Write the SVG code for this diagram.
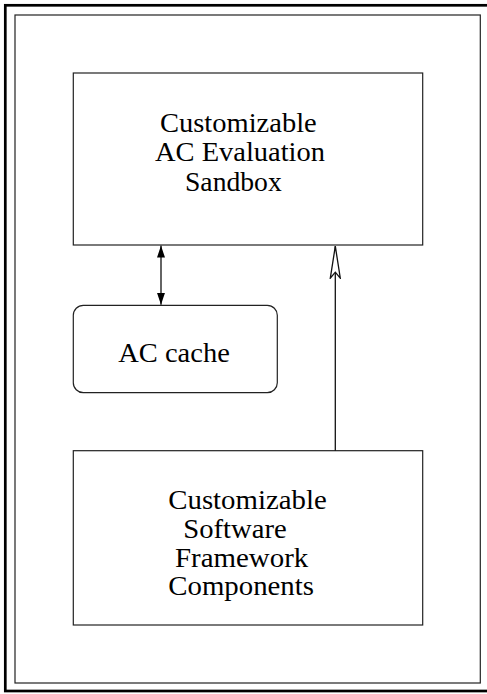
<svg xmlns="http://www.w3.org/2000/svg" width="487" height="694" viewBox="0 0 487 694">
  <style>
    .box { fill: #ffffff; stroke: #222222; stroke-width: 1.2; }
    .lbl { font-family: "Liberation Serif", "Times New Roman", serif; font-size: 26.5px; fill: #000000; }
    .conn { stroke: #111111; stroke-width: 1.3; fill: none; }
  </style>
  <defs>
    <marker id="filled" viewBox="0 0 12 8" refX="12" refY="4" markerWidth="12" markerHeight="8" markerUnits="userSpaceOnUse" orient="auto-start-reverse">
      <path d="M0,0 L12,4 L0,8 Z" fill="#000000"/>
    </marker>
    <marker id="open" viewBox="0 0 34 12" refX="33" refY="6" markerWidth="34" markerHeight="12" markerUnits="userSpaceOnUse" orient="auto">
      <path d="M1,1 L33,6 L1,11 L7,6 Z" fill="#ffffff" stroke="#111111" stroke-width="1.3" stroke-linejoin="miter"/>
    </marker>
  </defs>

  <g id="frame">
    <rect x="5.3" y="5.3" width="492" height="685.7" fill="none" stroke="#000000" stroke-width="2.7"/>
    <rect x="15" y="15" width="465.3" height="668" fill="none" stroke="#222222" stroke-width="1.2"/>
  </g>

  <g id="sandbox">
    <rect class="box" x="73.3" y="73" width="349.4" height="172"/>
    <text class="lbl" x="160" y="131.7" textLength="156.7" lengthAdjust="spacingAndGlyphs">Customizable</text>
    <text class="lbl" x="155" y="160.5" textLength="170" lengthAdjust="spacingAndGlyphs">AC Evaluation</text>
    <text class="lbl" x="185" y="191" textLength="96.7" lengthAdjust="spacingAndGlyphs">Sandbox</text>
  </g>

  <g id="cache">
    <rect class="box" x="73.3" y="305.3" width="204" height="87.4" rx="10" ry="10"/>
    <text class="lbl" x="118.3" y="362" textLength="111.5" lengthAdjust="spacingAndGlyphs">AC cache</text>
  </g>

  <g id="framework">
    <rect class="box" x="73.3" y="450.7" width="349.4" height="174.3"/>
    <text class="lbl" x="168.3" y="509" textLength="158.4" lengthAdjust="spacingAndGlyphs">Customizable</text>
    <text class="lbl" x="183.3" y="537.5" textLength="103.4" lengthAdjust="spacingAndGlyphs">Software</text>
    <text class="lbl" x="175" y="566.7" textLength="133.3" lengthAdjust="spacingAndGlyphs">Framework</text>
    <text class="lbl" x="168.3" y="595" textLength="145.7" lengthAdjust="spacingAndGlyphs">Components</text>
  </g>

  <g id="connectors">
    <line class="conn" x1="161" y1="245.6" x2="161" y2="304.8" marker-start="url(#filled)" marker-end="url(#filled)"/>
    <line class="conn" x1="335.3" y1="450.7" x2="335.3" y2="246.2" marker-end="url(#open)"/>
  </g>
</svg>
